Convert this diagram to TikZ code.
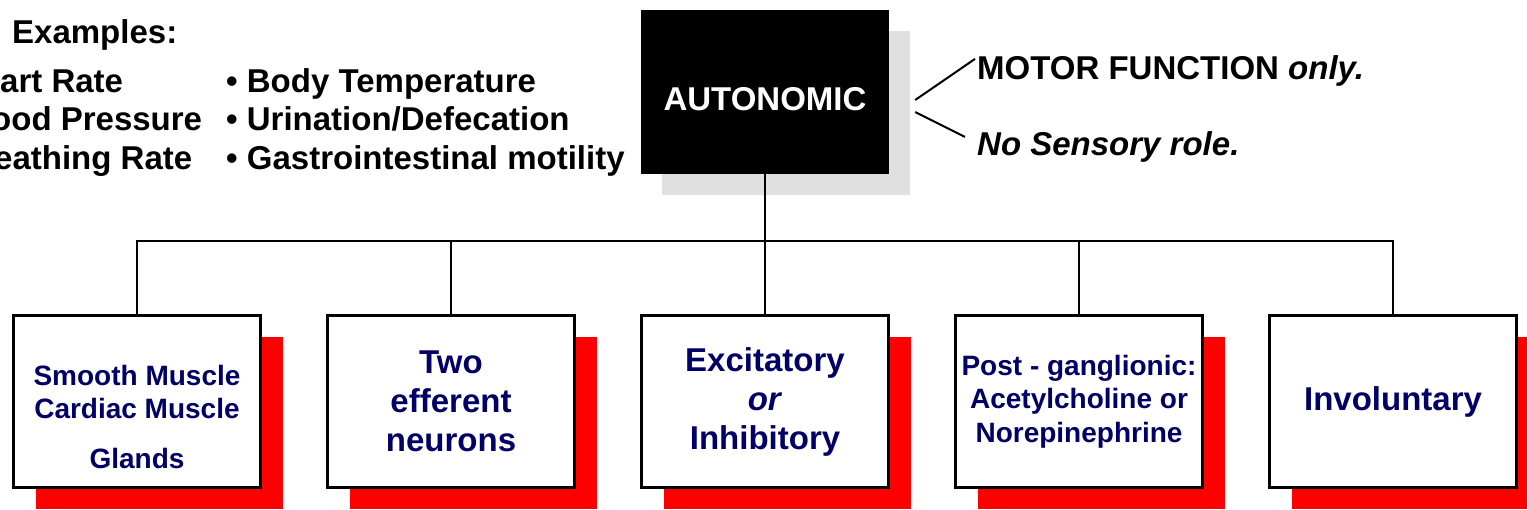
\documentclass[tikz,border=0pt]{standalone}
\usepackage{fontspec}
\setmainfont{Liberation Sans}
\usetikzlibrary{trees,shadows,backgrounds}
\definecolor{navy}{RGB}{0,0,102}
\definecolor{shadowgray}{RGB}{224,224,224}

\begin{document}
\begin{tikzpicture}[
  level distance=309.5pt,
  sibling distance=314pt,
  edge from parent/.style={draw,line width=2pt},
  edge from parent path={(\tikzparentnode.south) -- ++(0,-67pt) -| (\tikzchildnode.north)},
  root node/.style={rectangle,fill=black,text=white,inner sep=0pt,
    minimum width=248pt,minimum height=164pt,text height=36pt,text depth=0pt,
    font=\bfseries\fontsize{33}{38}\selectfont},
  card node/.style={rectangle,draw,line width=2.6pt,fill=white,inner sep=0pt,
    minimum width=247pt,minimum height=172pt,align=center,text=navy,
    font=\bfseries\fontsize{33}{39}\selectfont,
    drop shadow={shadow xshift=22pt,shadow yshift=-21pt,fill=red,opacity=1}},
  small text/.style={font=\bfseries\fontsize{28}{33.5}\selectfont},
  note/.style={anchor=base west,inner sep=0pt,font=\bfseries\fontsize{33}{39}\selectfont}
]
\useasboundingbox (0,0) rectangle (1527pt,-509pt);

\node[root node] (auto) at (765pt,-92pt) {AUTONOMIC}
child {
  node[card node] (muscle) {}
}
child {
  node[card node] (neurons) {Two\\efferent\\neurons}
}
child {
  node[card node] (effect) {Excitatory\\\textit{or}\\Inhibitory}
}
child {
  node[card node,small text] (transmit) {Post - ganglionic:\\Acetylcholine or\\Norepinephrine}
}
child {
  node[card node] (control) {Involuntary}
}
;
\node[small text,align=center,text=navy] (muscletext) at ([yshift=-15pt]muscle.center)
  {Smooth Muscle\\Cardiac Muscle\\[16pt]Glands};

% grey shadow behind the root box
\begin{scope}[on background layer]
  \fill[shadowgray] ([shift={(21pt,-21pt)}]auto.south west) rectangle ([shift={(21pt,-21pt)}]auto.north east);
\end{scope}

% side notes
\node[note] (motor) at (977pt,-79pt) {MOTOR FUNCTION \textit{only.}};
\node[note] (sensory) at (977pt,-155pt) {\textit{No Sensory role.}};
\draw[line width=2pt] ([shift={(26pt,-8pt)}]auto.east) -- ([shift={(-2pt,-4pt)}]motor.north west);
\draw[line width=2pt] ([shift={(26pt,-20pt)}]auto.east) -- ([shift={(-12pt,-6pt)}]sensory.north west);

% examples
\node[note] (examples) at (12pt,-43pt) {Examples:};
\node[note] (heart) at (0pt,-92pt) {art Rate};
\node[note] (blood) at (-9pt,-130pt) {ood Pressure};
\node[note] (breath) at (-6pt,-169pt) {eathing Rate};
\node[note] (temp) at (226pt,-92pt) {\textbullet\ Body Temperature};
\node[note] (urine) at (226pt,-130pt) {\textbullet\ Urination/Defecation};
\node[note] (gut) at (226pt,-169pt) {\textbullet\ Gastrointestinal motility};
\end{tikzpicture}
\end{document}
